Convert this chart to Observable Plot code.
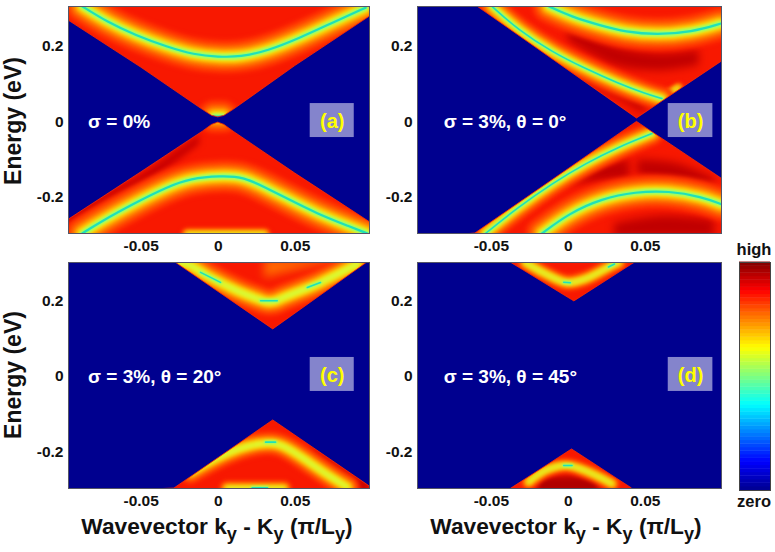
<!DOCTYPE html>
<html><head><meta charset="utf-8">
<script src="https://cdn.jsdelivr.net/npm/d3@7"></script>
<script src="https://cdn.jsdelivr.net/npm/@observablehq/plot@0.6"></script>
<style>
body{margin:0;background:#fff}
#page{position:relative;width:775px;height:552px;overflow:hidden;font-family:"Liberation Sans",Arial,sans-serif;font-weight:bold;color:#111}
#page svg{position:absolute;background:transparent;overflow:visible}
.t{position:absolute;white-space:nowrap;transform:translate(-50%,-50%)}
.t sub{font-size:.8em;vertical-align:-.35em;line-height:0}
.r{transform:translate(-50%,-50%) rotate(-90deg)}
</style></head><body><div id="page"></div>
<script>
const BLUE="#00008f", RED="#f81800";
const xTicks=[-0.05,0,0.05], yTicks=[-0.2,0,0.2];

// blue gap between the two cones: [k, top of lower cone, bottom of upper cone]
const gapA=[[-.1,-.268,.276],[-.098,-.262,.271],[-.05,-.134,.144],[-.01,-.026,.032],[-.004,-.008,.016],[0,-.002,.012],[.004,-.008,.016],[.01,-.026,.032],[.05,-.137,.148],[.098,-.265,.278],[.1,-.27,.283]];
const gapB=[[-.1,-.31,.31],[-.0604,-.296,.31],[-.0593,-.293,.3065],[.0446,0,.009],[.0994,-.15,.159],[.1,-.152,.161]];
const gapC=[[-.1,-.31,.31],[-.0284,-.297,.31],[-.0277,-.295,.302],[.0357,-.1166,.1246],[.0968,-.2873,.302],[.0983,-.2915,.31],[.1,-.31,.31]];
const gapD=[[-.1,-.31,.31],[-.038,-.31,.31],[-.0375,-.2985,.302],[.0024,-.1935,.2025],[.0039,-.1975,.1988],[.0413,-.2968,.2965],[.0435,-.31,.302],[.044,-.31,.31],[.1,-.31,.31]];

// band ridges [k, E]
const a1=[[-.0883,.3065],[-.0721,.265],[-.0537,.2297],[-.0331,.1988],[-.0158,.1784],[0,.1723],[.0145,.1723],[.0318,.188],[.0535,.2235],[.0751,.265],[.0957,.303]];
const a2=[[-.0883,-.296],[-.0764,-.265],[-.0548,-.2164],[-.0331,-.1723],[-.018,-.15],[.0015,-.143],[.0167,-.1458],[.0318,-.1767],[.0427,-.199],[.0643,-.2438],[.0859,-.2783],[.0968,-.296]];
const aTip=[[-.003,.014],[.003,.014]];
const aFoot=[[-.02,-.298],[.03,-.298]];
const b1=[[-.0496,.3065],[-.0323,.243],[-.0106,.1855],[.011,.1413],[.0327,.1016],[.05,.0751],[.0608,.0618]];
const b2=[[-.0128,.3065],[.0024,.278],[.0208,.2559],[.037,.2385],[.0576,.231],[.0803,.2385],[.0987,.2603]];
const b3=[[-.0539,-.296],[-.0323,-.2253],[-.0106,-.1634],[.011,-.1104],[.0327,-.0663],[.0543,-.0309]];
const b4=[[-.0171,-.296],[.0002,-.243],[.0219,-.2032],[.0435,-.1855],[.0652,-.1829],[.0868,-.1988],[.0994,-.2182]];
const bEdge=[[.0608,.0645],[.0716,.091]];
const c1=[[-.026,.304],[-.018,.294],[-.0071,.2669],[.0123,.2271],[.0255,.206],[.0318,.198],[.037,.2],[.0424,.2094],[.0618,.2404],[.0708,.2579],[.0903,.2976]];
const c2=[[-.018,-.2536],[.0015,-.2094],[.0188,-.1829],[.034,-.1741],[.0426,-.1829],[.0556,-.2173],[.0708,-.2611],[.0838,-.2934]];
const c3=[[.0058,-.297],[.0426,-.297]];
const cCores=[[[-.0115,.2757],[.0015,.2492]],[[.0275,.2006],[.0383,.2006]],[[.0578,.2359],[.0664,.2491]],[[.0307,-.1741],[.0372,-.1741]],[[.022,-.295],[.032,-.295]]];
const d1=[[-.0279,.302],[-.0149,.2721],[-.0008,.2491],[.011,.2588],[.0284,.2942],[.0327,.302]];
const d2=[[-.0258,-.28],[-.0149,-.2491],[-.0009,-.2359],[.0132,-.2535],[.0284,-.2845]];
const dCores=[[[-.003,.2495],[.0013,.2482]],[[.026,.29],[.030,.298]],[[-.003,-.2359],[.0024,-.2359]]];

// dark patches [k, E lower, E upper]
const darkA=[[[-.098,-.275,-.25],[-.07,-.215,-.185],[-.05,-.17,-.14],[-.03,-.115,-.085],[-.012,-.06,-.035]]];
const darkB=[[[0,.215,.25],[.03,.15,.2],[.06,.135,.18],[.085,.15,.19]],[[-.03,.2,.225],[.0,.13,.165],[.03,.07,.09],[.05,.02,.05]],[[.045,-.14,-.1],[.07,-.16,-.11],[.095,-.17,-.15]],[[.03,-.305,-.27],[.06,-.305,-.25],[.095,-.305,-.26]],[[-.02,-.17,-.14],[.01,-.16,-.12],[.04,-.15,-.1]]];
const darkC=[[[.06,-.2,-.19],[.08,-.27,-.24],[.098,-.31,-.285]]];
const darkD=[[[-.02,-.31,-.27],[.0,-.31,-.265],[.02,-.31,-.27]]];
const orangeC=[[[.03,.26,.31],[.06,.29,.31],[.08,.3,.31]]];

// texts
const sigma=["σ = 0%","σ = 3%, θ = 0°","σ = 3%, θ = 20°","σ = 3%, θ = 45°"];
const tags=["(a)","(b)","(c)","(d)"];
const axisY="Energy (eV)";
const barStops=[0,.125,.375,.625,.875,1];
const barColors=["#00008f","#0000ff","#00ffff","#ffff00","#ff0000","#800000"];
const barLevels=d3.range(0,1,1/64);

const halo=[[34,"#ff3000"],[26,"#ff5500"],[19,"#ff8000"],[13.5,"#ffb000"],[9,"#ffe000"],[5.5,"#d0ff40"]];
const glow=(pts,s=1,core=true,curve="catmull-rom")=>[
  ...halo.map(([w,c])=>Plot.line(pts,{x:d=>d[0],y:d=>d[1],stroke:c,strokeWidth:w*s,curve,clip:"frame",imageFilter:"blur(2px)"})),
  ...(core?coreLine(pts,s,curve):[])
];
const coreLine=(pts,s=1,curve="catmull-rom")=>[
  Plot.line(pts,{x:d=>d[0],y:d=>d[1],stroke:"#90ff70",strokeWidth:5*s,curve,clip:"frame",imageFilter:"blur(.8px)"}),
  Plot.line(pts,{x:d=>d[0],y:d=>d[1],stroke:"#20e0b8",strokeWidth:2.2*s,curve,clip:"frame",imageFilter:"blur(.5px)"})
];
const patch=(pts,c,b=3)=>Plot.areaY(pts,{x:d=>d[0],y1:d=>d[1],y2:d=>d[2],fill:c,curve:"catmull-rom",clip:"frame",imageFilter:`blur(${b}px)`});

const leftX=[-.0972,.0982], rightX=[-.098,.0995], topY=[-.296,.306], botY=[-.297,.302];

function panel(o){
  const p=Plot.plot({
    width:o.w,height:262,marginLeft:o.ml,marginRight:o.mr,marginTop:6,marginBottom:o.mb,
    x:{domain:o.xd,ticks:xTicks},y:{domain:o.yd,ticks:yTicks},
    style:{fontFamily:"Liberation Sans",fontWeight:"bold",fontSize:"15.5px",color:"#111",background:"transparent"},
    marks:[
      Plot.frame({fill:RED}),
      ...o.under,
      Plot.areaY(o.gap,{x:d=>d[0],y1:d=>d[1],y2:d=>d[2],fill:BLUE,stroke:"#ff2c00",strokeWidth:.8,clip:"frame",imageFilter:"blur(.3px)"}),
      Plot.rect([o.box],{x1:d=>d[0],x2:d=>d[1],y1:d=>d[2],y2:d=>d[3],fill:"#8484cc"}),
      Plot.text([o.tag],{x:o.tagK,y:o.tagE,text:d=>d,fill:"#ffff00",fontSize:20,fontWeight:"bold"}),
      Plot.text([o.sigma],{x:o.sigK,y:o.sigE,text:d=>d,fill:"#fff",fontSize:19,fontWeight:"bold",textAnchor:"start"}),
      Plot.frame({stroke:"#556",strokeWidth:1}),
      Plot.axisX({ticks:xTicks,tickSize:0,tickPadding:6,label:null,tickFormat:d=>String(d)}),
      Plot.axisY({ticks:yTicks,tickSize:0,tickPadding:5,label:null,tickFormat:d=>String(d)})
    ]
  });
  p.style.left=o.l+"px";p.style.top=o.t+"px";
  document.getElementById("page").appendChild(p);
}

panel({l:0,t:0,w:385,ml:68,mr:16,mb:29,xd:leftX,yd:topY,gap:gapA,
  under:[...darkA.map(d=>patch(d,"#c80000",3)),...glow(aFoot,.4,false),...glow(a1,1,true,"basis"),...glow(a2,1,true,"basis"),...glow(aTip,1.0)],
  box:[.0597,.0883,-.0415,.0486],tag:tags[0],tagK:.074,tagE:.002,sigma:sigma[0],sigK:-.0845,sigE:0});
panel({l:385,t:0,w:345,ml:32,mr:9,mb:29,xd:rightX,yd:topY,gap:gapB,
  under:[...darkB.map(d=>patch(d,"#c00000",4)),...glow(bEdge,.3,false),...glow(b1,.72,true,"basis"),...glow(b2,1,true,"basis"),...glow(b3,.72,true,"basis"),...glow(b4,1,true,"basis")],
  box:[.0649,.0939,-.0415,.0486],tag:tags[1],tagK:.0794,tagE:.002,sigma:sigma[1],sigK:-.0810,sigE:0});
panel({l:0,t:256,w:385,ml:68,mr:16,mb:30,xd:leftX,yd:botY,gap:gapC,
  under:[...darkC.map(d=>patch(d,"#c00000",3)),...glow(c3,.5,false),...orangeC.map(d=>patch(d,"#ff6a00",5)),...glow(c1,.85,false),...glow(c2,.72,false,"basis"),...cCores.flatMap(d=>coreLine(d,.7))],
  box:[.0597,.0883,-.0398,.0503],tag:tags[2],tagK:.074,tagE:.002,sigma:sigma[2],sigK:-.0845,sigE:0});
panel({l:385,t:256,w:345,ml:32,mr:9,mb:30,xd:rightX,yd:botY,gap:gapD,
  under:[...darkD.map(d=>patch(d,"#b00000",3)),...glow(d1,.5,false),...glow(d2,.45,false),...dCores.flatMap(d=>coreLine(d,.7))],
  box:[.0649,.0939,-.0398,.0503],tag:tags[3],tagK:.0794,tagE:.002,sigma:sigma[3],sigK:-.0810,sigE:0});

// colour bar
const bar=Plot.plot({
  width:31,height:228,margin:0,
  x:{domain:[0,1],axis:null},y:{domain:[0,1],axis:null},
  color:{type:"linear",domain:barStops,range:barColors,interpolate:"rgb"},
  style:{background:"transparent"},
  marks:[
    Plot.rect(barLevels,{x1:0,x2:1,y1:d=>d,y2:d=>d+1/64+.002,fill:d=>d+1/128}),
    Plot.frame({stroke:"#444",strokeWidth:1})
  ]
});
bar.style.left="739px";bar.style.top="262px";
const page=document.getElementById("page");
page.appendChild(bar);

const put=(html,x,y,size,cls="")=>{const e=document.createElement("div");e.className="t "+cls;e.innerHTML=html;e.style.left=x+"px";e.style.top=y+"px";e.style.fontSize=size+"px";page.appendChild(e);};
put(axisY,13,121,23,"r");
put(axisY,13,375,23,"r");
const waveLabel="Wavevector k<sub>y</sub> - K<sub>y</sub> (π/L<sub>y</sub>)";
put(waveLabel,217,526,22.7);
put(waveLabel,566,526,22.7);
put("high",754,249,16.5);
put("zero",754,501,16.5);
</script></body></html>
